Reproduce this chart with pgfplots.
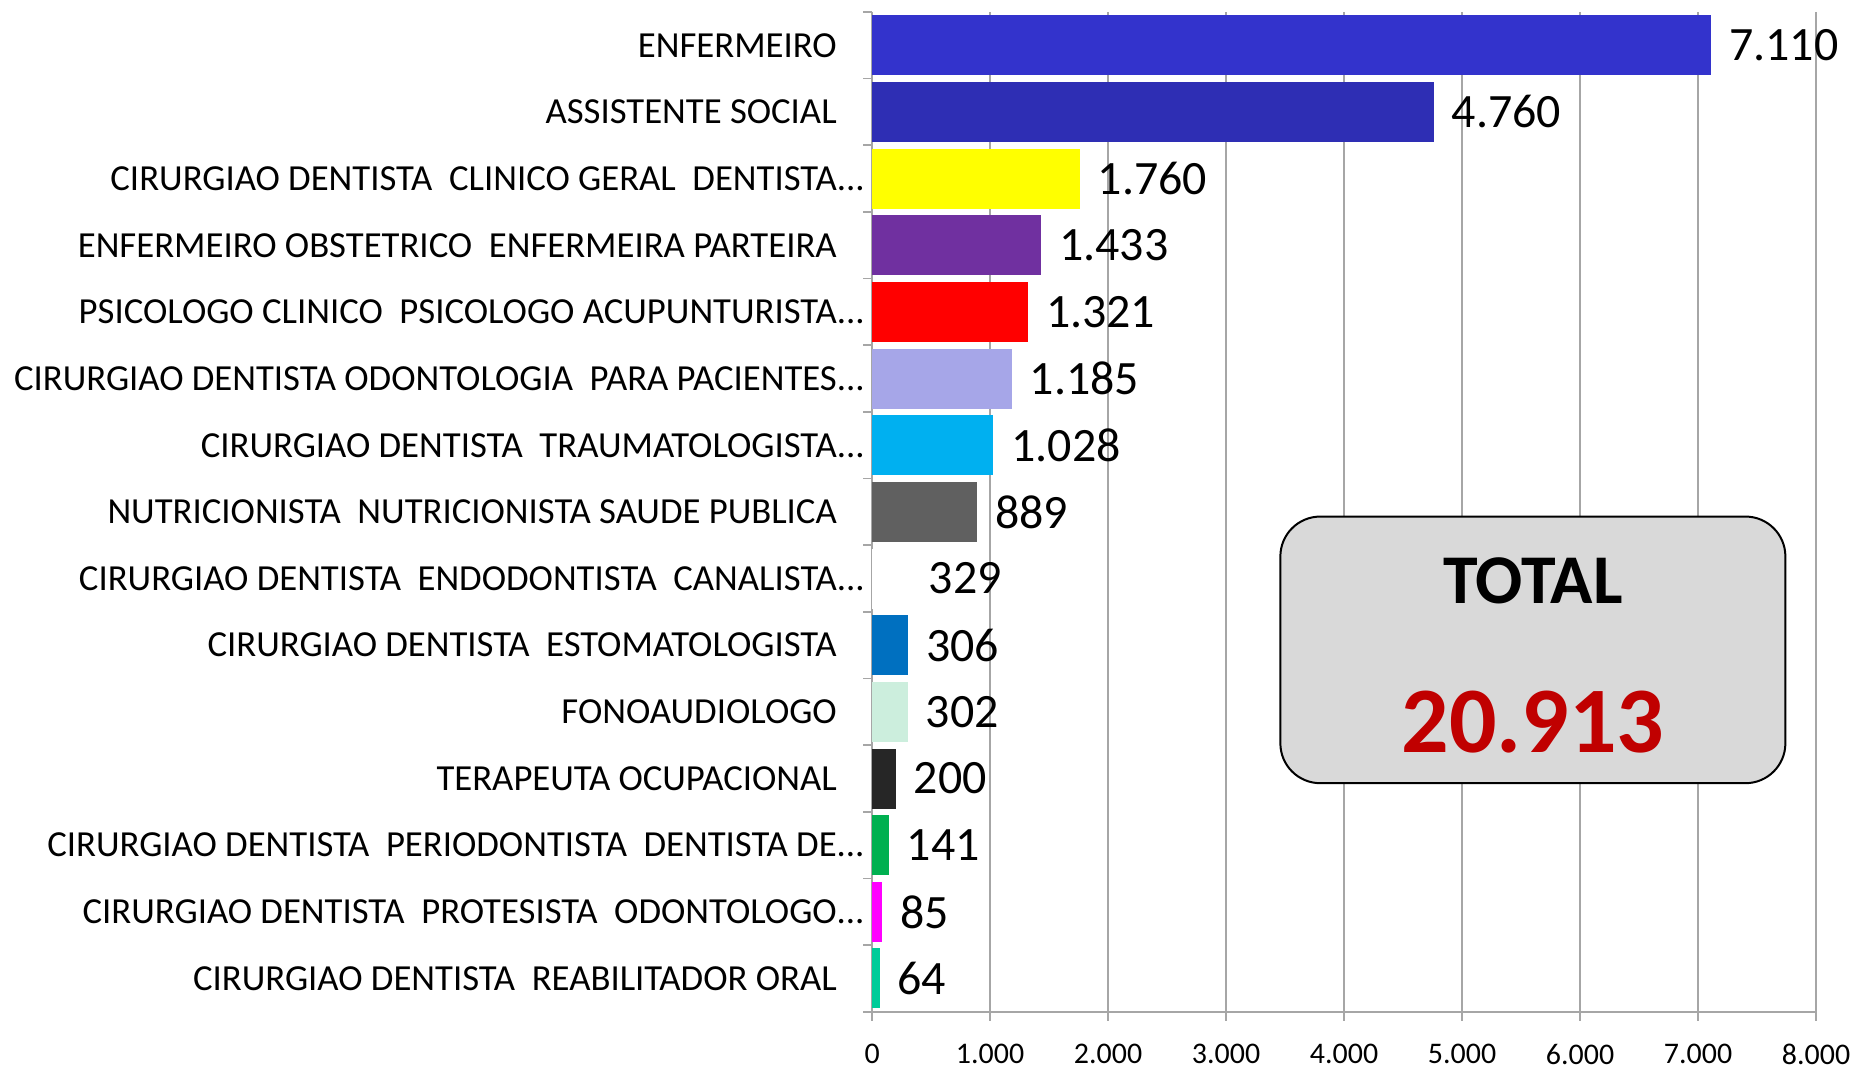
\documentclass[border=0pt]{standalone}
\usepackage{pgfplots}
\pgfplotsset{compat=1.18}
\usepackage{fontspec}
\setmainfont{Carlito}
\definecolor{c1}{HTML}{3333CC}
\definecolor{c2}{HTML}{2E2EB4}
\definecolor{c3}{HTML}{FFFF00}
\definecolor{c4}{HTML}{7030A0}
\definecolor{c5}{HTML}{FF0000}
\definecolor{c6}{HTML}{A6A6E8}
\definecolor{c7}{HTML}{00B0F0}
\definecolor{c8}{HTML}{606060}
\definecolor{c9}{HTML}{FFFFFF}
\definecolor{c10}{HTML}{0070C0}
\definecolor{c11}{HTML}{CCEEDD}
\definecolor{c12}{HTML}{262626}
\definecolor{c13}{HTML}{00B050}
\definecolor{c14}{HTML}{FF00FF}
\definecolor{c15}{HTML}{00CC99}
\definecolor{boxgray}{HTML}{D9D9D9}
\definecolor{totred}{HTML}{C00000}
\definecolor{gridgray}{HTML}{A6A6A6}
\begin{document}
\begin{tikzpicture}
\begin{axis}[
  width=473pt, height=501pt, scale only axis,
  xmin=0, xmax=8000, ymin=-0.5, ymax=14.5, y dir=reverse,
  xtick={0,1000,...,8000},
  scaled x ticks=false,
  xticklabel style={font=\fontsize{15}{15}\selectfont, inner sep=1pt, yshift=-10.5pt},
  ytick={-0.5,0.5,...,14.5},
  y tick label as interval,
  yticklabels={
    ENFERMEIRO,
    ASSISTENTE SOCIAL,
    CIRURGIAO DENTISTA\ \ CLINICO GERAL\ \ DENTISTA\rlap{...},
    ENFERMEIRO OBSTETRICO\ \ ENFERMEIRA PARTEIRA,
    PSICOLOGO CLINICO\ \ PSICOLOGO ACUPUNTURISTA\rlap{...},
    CIRURGIAO DENTISTA ODONTOLOGIA\ \ PARA PACIENTES\rlap{...},
    CIRURGIAO DENTISTA\ \ TRAUMATOLOGISTA\rlap{...},
    NUTRICIONISTA\ \ NUTRICIONISTA SAUDE PUBLICA,
    CIRURGIAO DENTISTA\ \ ENDODONTISTA\ \ CANALISTA\rlap{...},
    CIRURGIAO DENTISTA\ \ ESTOMATOLOGISTA,
    FONOAUDIOLOGO,
    TERAPEUTA OCUPACIONAL,
    CIRURGIAO DENTISTA\ \ PERIODONTISTA\ \ DENTISTA DE\rlap{...},
    CIRURGIAO DENTISTA\ \ PROTESISTA\ \ ODONTOLOGO\rlap{...},
    CIRURGIAO DENTISTA\ \ REABILITADOR ORAL},
  yticklabel style={font=\fontsize{18.4}{18.4}\selectfont, anchor=east, inner sep=0pt, xshift=-13pt},
  xmajorgrids, ymajorgrids=false,
  grid style={draw=gridgray, line width=0.7pt},
  axis x line*=bottom, axis y line*=left,
  axis line style={draw=gridgray, line width=0.8pt, -},
  tick align=outside, major tick length=4.5pt,
  tick style={draw=gridgray, line width=0.8pt},
  bar shift=0pt,
  every axis plot/.append style={xbar, bar width=0.9, bar shift=0pt, draw=none,
    nodes near coords, point meta=x, nodes near coords align={horizontal},
    every node near coord/.append style={font=\fontsize{24}{24}\selectfont, text=black, xshift=5.5pt}},
  /pgf/number format/1000 sep={.},
  /pgf/number format/assume math mode=true,
]
\addplot[fill=c1] coordinates {(7110,0)};
\addplot[fill=c2] coordinates {(4760,1)};
\addplot[fill=c3] coordinates {(1760,2)};
\addplot[fill=c4] coordinates {(1433,3)};
\addplot[fill=c5] coordinates {(1321,4)};
\addplot[fill=c6] coordinates {(1185,5)};
\addplot[fill=c7] coordinates {(1028,6)};
\addplot[fill=c8] coordinates {(889,7)};
\addplot[fill=c9] coordinates {(329,8)};
\addplot[fill=c10] coordinates {(306,9)};
\addplot[fill=c11] coordinates {(302,10)};
\addplot[fill=c12] coordinates {(200,11)};
\addplot[fill=c13] coordinates {(141,12)};
\addplot[fill=c14] coordinates {(85,13)};
\addplot[fill=c15] coordinates {(64,14)};
\draw[draw=black, line width=1pt, fill=boxgray, rounded corners=20pt]
  (axis cs:3460,7.07) rectangle (axis cs:7740,11.07);
\node[font=\fontsize{35}{35}\selectfont\bfseries, text=black] at (axis cs:5600,8.03) {TOTAL};
\node[font=\fontsize{47}{47}\selectfont\bfseries, text=totred] at (axis cs:5600,10.16) {20.913};
\end{axis}
\path ([xshift=-437pt,yshift=6pt]current axis.north west) ([xshift=19pt,yshift=-30pt]current axis.south east);
\end{tikzpicture}
\end{document}
